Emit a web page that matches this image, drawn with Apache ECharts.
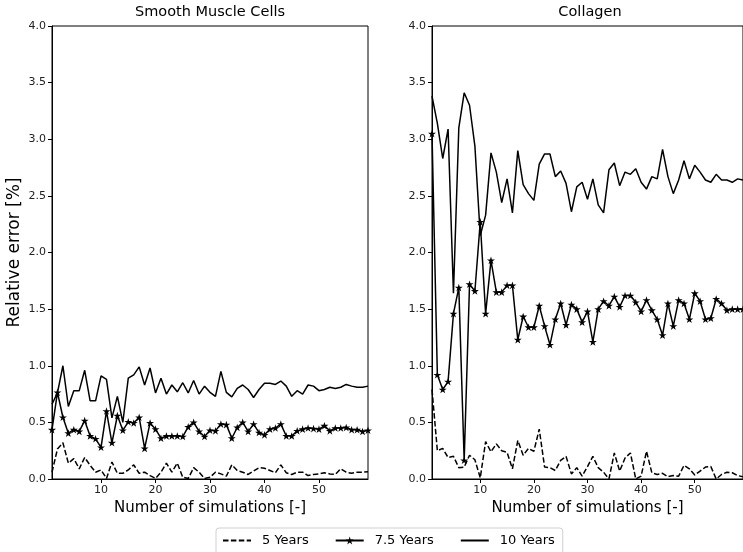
<!DOCTYPE html>
<html>
<head>
<meta charset="utf-8">
<script src="https://cdn.jsdelivr.net/npm/echarts@6/dist/echarts.min.js"></script>
<style>
  html, body { margin: 0; padding: 0; background: #fff; }
  #chart { width: 743px; height: 552px; }
</style>
</head>
<body>
<div id="chart"></div>
<script>
// values, x = 1..59 simulations
const smc5 = [0.06, 0.265, 0.32, 0.14, 0.18, 0.09, 0.19, 0.12, 0.06, 0.08,
  0.005, 0.15, 0.05, 0.05, 0.08, 0.125, 0.05, 0.06, 0.03, 0.005,
  0.06, 0.14, 0.06, 0.14, 0.015, 0.005, 0.10, 0.06, 0.005, 0.015,
  0.06, 0.045, 0.025, 0.125, 0.075, 0.06, 0.04, 0.07, 0.10, 0.095,
  0.075, 0.055, 0.125, 0.055, 0.04, 0.06, 0.06, 0.03, 0.04, 0.045,
  0.055, 0.045, 0.04, 0.09, 0.06, 0.05, 0.06, 0.06, 0.065]
const smc75 = [0.435, 0.765, 0.545, 0.405, 0.435, 0.42, 0.515, 0.38, 0.355, 0.28,
  0.60, 0.32, 0.56, 0.43, 0.505, 0.495, 0.545, 0.27, 0.495, 0.44,
  0.36, 0.38, 0.38, 0.38, 0.375, 0.46, 0.50, 0.42, 0.375, 0.43,
  0.425, 0.485, 0.48, 0.36, 0.455, 0.50, 0.42, 0.485, 0.41, 0.39,
  0.44, 0.45, 0.485, 0.38, 0.38, 0.425, 0.44, 0.45, 0.445, 0.44,
  0.47, 0.425, 0.45, 0.45, 0.455, 0.435, 0.435, 0.42, 0.43]
const smc10 = [0.66, 0.76, 1.0, 0.64, 0.78, 0.78, 0.96, 0.69, 0.69, 0.91,
  0.88, 0.54, 0.73, 0.50, 0.89, 0.92, 0.99, 0.83, 0.98, 0.76,
  0.89, 0.75, 0.83, 0.77, 0.85, 0.76, 0.87, 0.75, 0.82, 0.765,
  0.73, 0.95, 0.765, 0.725, 0.80, 0.83, 0.79, 0.72, 0.79, 0.845,
  0.845, 0.835, 0.865, 0.82, 0.73, 0.78, 0.75, 0.83, 0.82, 0.78,
  0.79, 0.81, 0.80, 0.81, 0.835, 0.82, 0.81, 0.81, 0.82]

const col5 = [0.79, 0.25, 0.27, 0.19, 0.20, 0.10, 0.105, 0.21, 0.17, 0.01,
  0.33, 0.24, 0.31, 0.25, 0.235, 0.09, 0.34, 0.21, 0.27, 0.245,
  0.44, 0.105, 0.10, 0.075, 0.165, 0.20, 0.045, 0.10, 0.025, 0.11,
  0.20, 0.10, 0.06, 0.0, 0.23, 0.07, 0.185, 0.23, 0.0, 0.025,
  0.245, 0.055, 0.04, 0.05, 0.02, 0.03, 0.025, 0.12, 0.09, 0.035,
  0.07, 0.105, 0.11, 0.0, 0.04, 0.06, 0.055, 0.03, 0.02]
const col75 = [3.05, 0.92, 0.79, 0.86, 1.46, 1.69, 0.165, 1.72, 1.66, 2.27,
  1.46, 1.93, 1.65, 1.65, 1.71, 1.71, 1.23, 1.435, 1.34, 1.34,
  1.53, 1.35, 1.185, 1.41, 1.55, 1.36, 1.54, 1.50, 1.385, 1.48,
  1.21, 1.50, 1.57, 1.53, 1.61, 1.52, 1.62, 1.62, 1.56, 1.48,
  1.58, 1.49, 1.41, 1.27, 1.55, 1.35, 1.58, 1.55, 1.41, 1.64,
  1.57, 1.41, 1.42, 1.59, 1.55, 1.49, 1.50, 1.50, 1.50]
const col10 = [3.38, 3.14, 2.83, 3.09, 1.64, 3.10, 3.41, 3.30, 2.94, 2.15,
  2.33, 2.88, 2.71, 2.44, 2.65, 2.35, 2.90, 2.60, 2.52, 2.46,
  2.78, 2.87, 2.87, 2.67, 2.72, 2.61, 2.36, 2.58, 2.62, 2.47,
  2.65, 2.42, 2.35, 2.73, 2.79, 2.59, 2.71, 2.69, 2.74, 2.62,
  2.56, 2.67, 2.65, 2.91, 2.67, 2.52, 2.64, 2.81, 2.65, 2.77,
  2.71, 2.64, 2.62, 2.69, 2.64, 2.64, 2.62, 2.65, 2.64]

const titles = ['Smooth Muscle Cells', 'Collagen']
const legendNames = ['5 Years', '7.5 Years', '10 Years']
const xTicks = [10, 20, 30, 40, 50]

const FONT = 'DejaVu Sans'
const STAR = 'path://M50,0 L61.2,34.5 L97.6,34.5 L68.2,55.9 L79.4,90.5 L50,69.1 L20.6,90.5 L31.8,55.9 L2.4,34.5 L38.8,34.5 Z'

const toPairs = (arr) => arr.map((v, i) => [i + 1, v])

const chart = echarts.init(document.getElementById('chart'))

const grids = [
  { left: 52, top: 26, width: 316, height: 453 },
  { left: 432, top: 26, width: 316, height: 453 },
]

const xAxis = grids.map((g, i) => ({
  type: 'value',
  gridIndex: i,
  min: 1,
  max: 59,
  name: 'Number of simulations [-]',
  nameLocation: 'middle',
  nameGap: 22,
  nameTextStyle: { fontFamily: FONT, fontSize: 15, color: '#000' },
  axisLine: { show: true, onZero: false, lineStyle: { color: '#000', width: 1 } },
  axisTick: { show: true, length: 4, customValues: xTicks, lineStyle: { color: '#000' } },
  axisLabel: { customValues: xTicks, fontFamily: FONT, fontSize: 11, color: '#222', margin: 6 },
  splitLine: { show: false },
}))

const yAxis = grids.map((g, i) => ({
  type: 'value',
  gridIndex: i,
  min: 0,
  max: 4,
  interval: 0.5,
  name: i === 0 ? 'Relative error [%]' : '',
  nameLocation: 'middle',
  nameGap: 29,
  nameTextStyle: { fontFamily: FONT, fontSize: 17, color: '#000' },
  axisLine: { show: true, lineStyle: { color: '#000', width: 1 } },
  axisTick: { show: true, length: 4, lineStyle: { color: '#000' } },
  axisLabel: {
    fontFamily: FONT, fontSize: 11, color: '#222', margin: 6,
    formatter: (v) => v.toFixed(1),
  },
  splitLine: { show: false },
}))

// one dashed, one with stars, one solid line per panel
const makeSeries = (gi, d5, d75, d10) => [
  {
    name: legendNames[0], type: 'line', xAxisIndex: gi, yAxisIndex: gi,
    data: toPairs(d5), symbol: 'none',
    lineStyle: { color: '#000', width: 1.5, type: [5.5, 2.4] },
    itemStyle: { color: '#000' },
  },
  {
    name: legendNames[1], type: 'line', xAxisIndex: gi, yAxisIndex: gi,
    data: toPairs(d75), symbol: STAR, symbolSize: 8, symbolKeepAspect: true,
    lineStyle: { color: '#000', width: 1.5 },
    itemStyle: { color: '#000' },
  },
  {
    name: legendNames[2], type: 'line', xAxisIndex: gi, yAxisIndex: gi,
    data: toPairs(d10), symbol: 'none',
    lineStyle: { color: '#000', width: 1.5 },
    itemStyle: { color: '#000' },
  },
]

const option = {
  animation: false,
  backgroundColor: '#fff',
  title: titles.map((t, i) => ({
    text: t,
    left: grids[i].left + grids[i].width / 2,
    top: 5,
    textAlign: 'center',
    padding: 0,
    textStyle: { fontFamily: FONT, fontSize: 14.5, fontWeight: 'normal', color: '#000' },
  })),
  grid: grids.map((g) => ({
    ...g,
    show: true,
    borderColor: '#000',
    borderWidth: 1,
    backgroundColor: 'transparent',
  })),
  xAxis,
  yAxis,
  legend: {
    // no marker in the legend for the plain lines
    data: [
      { name: legendNames[0], itemStyle: { opacity: 0 } },
      { name: legendNames[1] },
      { name: legendNames[2], itemStyle: { opacity: 0 } },
    ],
    left: 216,
    top: 528,
    orient: 'horizontal',
    itemWidth: 28,
    itemHeight: 10,
    itemGap: 26,
    padding: [6, 8, 8, 6],
    borderColor: '#d0d0d0',
    borderWidth: 1,
    borderRadius: 3,
    textStyle: { fontFamily: FONT, fontSize: 13, color: '#000', padding: [0, 0, 0, 6] },
  },
  series: [
    ...makeSeries(0, smc5, smc75, smc10),
    ...makeSeries(1, col5, col75, col10),
  ],
}

chart.setOption(option)
</script>
</body>
</html>
